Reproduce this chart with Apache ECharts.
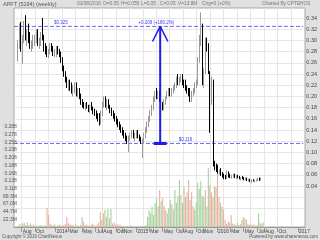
<!DOCTYPE html>
<html><head><meta charset="utf-8">
<script src="https://cdn.jsdelivr.net/npm/echarts@6/dist/echarts.min.js"></script>
<style>html,body{margin:0;padding:0;background:#e0e0e0}#c{width:320px;height:240px}</style>
</head><body><div id="c"></div>
<script>
// weekly bars, week 0 = 2013-07-01
const startWeek = '2013-07-01';
const opens = [
.27,.27,.27,.295,.322,.29,.30,.33,.305,.315,
.30,.29,.295,.30,.305,.31,.295,.30,.31,.305,
.285,.28,.275,.28,.29,.285,.275,.28,.285,.28,
.275,.265,.25,.24,.23,.22,.225,.215,.21,.215,
.22,.205,.21,.2,.19,.185,.182,.185,.18,.178,
.182,.178,.172,.17,.165,.16,.155,.17,.185,.195,
.185,.19,.18,.175,.17,.165,.16,.155,.15,.145,
.14,.135,.13,.125,.12,.125,.13,.135,.128,.132,
.135,.128,.125,.118,.12,.13,.14,.15,.16,.17,
.18,.195,.205,.2,.205,.195,.185,.18,.19,.198,
.205,.21,.205,.212,.215,.22,.23,.225,.232,.235,
.225,.22,.215,.21,.205,.2,.205,.21,.22,.225,
.265,.3,.315,.23,.245,.3,.29,.245,.19,.225,
.08,.075,.07,.065,.068,.062,.058,.056,.055,.062,
.058,.056,.058,.06,.055,.057,.056,.053,.055,.054,
.052,.053,.05,.051,.049,.05,.049,.05,.05,.052,
.05];
const highs = [
.27,.27,.30,.33,.333,.31,.335,.345,.32,.33,
.315,.30,.31,.31,.32,.32,.305,.315,.34,.31,
.295,.29,.285,.295,.295,.29,.285,.29,.29,.285,
.28,.27,.255,.245,.235,.23,.23,.225,.22,.225,
.225,.215,.215,.205,.195,.19,.188,.19,.185,.185,
.19,.182,.178,.175,.17,.17,.175,.19,.2,.2,
.195,.195,.185,.18,.175,.17,.165,.16,.155,.15,
.145,.14,.135,.13,.13,.135,.14,.14,.135,.14,
.14,.132,.128,.125,.135,.145,.155,.165,.175,.185,
.2,.21,.215,.21,.21,.2,.19,.195,.2,.21,
.215,.215,.215,.22,.225,.235,.24,.235,.24,.24,
.23,.23,.22,.215,.215,.21,.215,.225,.23,.27,
.31,.35,.33,.25,.305,.305,.295,.245,.235,.23,
.085,.08,.078,.07,.072,.065,.062,.06,.068,.066,
.062,.06,.062,.062,.06,.06,.058,.056,.058,.056,
.055,.055,.053,.053,.052,.052,.051,.052,.055,.055,
.055];
const lows = [
.27,.27,.262,.285,.28,.258,.295,.30,.29,.295,
.285,.28,.285,.29,.295,.29,.285,.29,.30,.28,
.275,.27,.268,.275,.28,.272,.27,.27,.275,.27,
.26,.245,.235,.225,.215,.21,.21,.205,.2,.205,
.2,.198,.195,.185,.18,.178,.175,.178,.172,.17,
.175,.168,.165,.16,.155,.148,.15,.165,.18,.18,
.175,.178,.17,.165,.16,.155,.15,.145,.14,.135,
.13,.125,.12,.115,.1,.12,.125,.125,.12,.125,
.125,.12,.115,.09,.115,.125,.135,.145,.155,.165,
.175,.19,.195,.195,.19,.18,.175,.175,.185,.195,
.2,.2,.2,.205,.21,.215,.22,.22,.225,.22,
.215,.21,.205,.2,.19,.19,.2,.205,.215,.22,
.26,.29,.22,.215,.24,.28,.24,.135,.185,.075,
.068,.065,.062,.06,.058,.055,.052,.052,.053,.055,
.054,.053,.055,.054,.052,.054,.052,.05,.052,.05,
.05,.049,.048,.047,.045,.048,.046,.048,.049,.049,
.05];
const closes = [
.27,.27,.295,.322,.29,.30,.33,.305,.315,.30,
.29,.295,.30,.305,.31,.295,.30,.31,.305,.285,
.28,.275,.28,.29,.285,.275,.28,.285,.28,.275,
.265,.25,.24,.23,.22,.225,.215,.21,.215,.22,
.205,.21,.2,.19,.185,.182,.185,.18,.178,.182,
.178,.172,.17,.165,.16,.155,.17,.185,.195,.185,
.19,.18,.175,.17,.165,.16,.155,.15,.145,.14,
.135,.13,.125,.12,.125,.13,.135,.128,.132,.135,
.128,.125,.118,.12,.13,.14,.15,.16,.17,.18,
.195,.205,.2,.205,.195,.185,.18,.19,.198,.205,
.21,.205,.212,.215,.22,.23,.225,.232,.235,.225,
.22,.215,.21,.205,.2,.205,.21,.22,.225,.265,
.3,.32,.23,.245,.3,.29,.245,.185,.228,.08,
.075,.07,.065,.068,.062,.058,.056,.055,.062,.058,
.056,.058,.06,.055,.057,.056,.053,.055,.054,.052,
.053,.05,.051,.049,.05,.049,.05,.05,.052,.05,
.05];
// volume in millions
const volumes = [
8,5,10,12,6,14,5,10,4,7,
3,5,2,4,6,3,5,4,55,35,
10,6,4,8,3,5,7,4,3,6,
9,29,12,8,5,6,3,8,4,3,
6,29,15,5,8,4,3,6,10,4,
3,7,12,43,20,40,49,30,52,25,
52,10,14,6,9,4,7,2,3,2,
1,3,2,4,2,1,2,3,2,1,
2,3,2,6,29,49,40,58,35,70,
84,60,107,75,84,60,49,40,55,78,
65,50,107,70,90,136,93,70,116,87,
100,136,78,101,60,50,70,128,110,133,
90,87,107,60,171,120,100,87,116,116,
160,87,70,58,50,20,9,17,12,35,
10,8,6,12,5,8,20,29,25,22,
9,6,8,5,7,4,6,40,12,8,13.8];

// x-axis tick labels (month starts)
const monthDates = ['2013-08-01','2013-10-01','2014-01-01','2014-03-01','2014-05-01','2014-07-01','2014-08-01','2014-10-01','2014-11-01','2015-01-01','2015-03-01','2015-05-01','2015-07-01','2015-08-01','2015-10-01','2015-11-01','2016-01-01','2016-03-01','2016-05-01','2016-07-01','2016-08-01','2016-10-01','2017-01-01'];
const monthLabels = ['Aug','Oct','2014','Mar','May','Jul','Aug','Oct','Nov','2015','Mar','May','Jul','Aug','Oct','Nov','2016','Mar','May','Jul','Aug','Oct','2017'];
const gridDates = ['2013-08-01','2013-10-01','2013-12-01','2014-02-01','2014-04-01','2014-06-01','2014-08-01','2014-10-01','2014-12-01','2015-02-01','2015-04-01','2015-06-01','2015-08-01','2015-10-01','2015-12-01','2016-02-01','2016-04-01','2016-06-01','2016-08-01','2016-10-01','2016-12-01'];
// left-side tick labels (bottom to top)
const leftLabels = ['','22.3M','44.7M','67.0M','89.3M','0.118','0.138','0.168','0.188','0.208','0.238','0.258','0.278','0.288'];

// measurement annotation
const levelHigh = 0.325, levelLow = 0.116;
const measureWeek = 94.5;
const levelHighText = '$0.325', levelLowText = '$0.116', changeText = '+0.209 (+180.2%)';

const headerTexts = ['APFT (5194) (weekly)','03/08/2016','O=0.05','H=0.055','L=0.05','C=0.05','V=13.8M','Chg=0 (+0%)','Charted By CPTEHOS'];
const headerLeft = [3,77,103,121,141,160,178,202,262];

const DAY = 86400000;
const t0 = Date.parse(startWeek + 'T00:00:00Z');
const toWeek = d => (Date.parse(d + 'T00:00:00Z') - t0) / (7 * DAY);
const monthPos = monthDates.map(toWeek);
const gridPos = gridDates.map(toWeek);
const labelMap = {};
monthPos.forEach((p, i) => { labelMap[p.toFixed(4)] = monthLabels[i]; });

const candleData = opens.map((o, i) => [i, o, closes[i], lows[i], highs[i]]);
const volData = volumes.map((v, i) => ({
  value: [i, v],
  itemStyle: { color: closes[i] >= opens[i] ? '#a6d29c' : '#e8b1a0' }
}));

const FONT = 'Liberation Sans';
const X0 = -0.5, X1 = 187.5;
const blue = '#1c1cf0';
const dashBlue = '#6a6aff';

const titles = headerTexts.map((t, i) => ({
  text: t, left: headerLeft[i], top: 1, padding: 0,
  textStyle: { fontSize: i === 0 ? 5.5 : 4.8, fontWeight: 'normal', color: i === 0 ? '#555' : '#777', fontFamily: FONT }
}));
titles.push({ text: 'Copyright \u00a9 2016 ChartNexus', left: 2, top: 234, padding: 0,
  textStyle: { fontSize: 4.5, fontWeight: 'normal', color: '#555', fontFamily: FONT } });
titles.push({ text: 'Powered by www.sharenexus.com', right: 2, top: 234, padding: 0,
  textStyle: { fontSize: 4.5, fontWeight: 'normal', color: '#555', fontFamily: FONT } });

const option = {
  backgroundColor: '#e0e0e0',
  animation: false,
  title: titles,
  grid: [
    { left: 14, right: 15, top: 8, bottom: 13, show: true, backgroundColor: '#ffffff', borderColor: '#a8a8a8', borderWidth: 1, z: -1 },
    { left: 14, right: 15, top: 18, bottom: 31.6 },
    { left: 14, right: 15, top: 127, bottom: 13 }
  ],
  xAxis: [
    { gridIndex: 0, type: 'value', min: X0, max: X1,
      axisLine: { show: true, lineStyle: { color: '#999' } },
      axisTick: { show: true, customValues: monthPos, length: 5, lineStyle: { color: '#999' } },
      axisLabel: { customValues: monthPos, formatter: v => labelMap[v.toFixed(4)] || '', fontSize: 5, color: '#444', fontFamily: FONT, align: 'left', margin: 2, padding: [0, 0, 0, 1] },
      splitLine: { show: false } },
    { gridIndex: 0, type: 'value', min: X0, max: X1, position: 'top',
      axisLine: { show: false }, axisTick: { show: false, customValues: gridPos }, axisLabel: { show: false },
      splitLine: { show: true, lineStyle: { color: '#e6e6e6', width: 1 } } },
    { gridIndex: 1, type: 'value', min: X0, max: X1, show: false },
    { gridIndex: 2, type: 'value', min: X0, max: X1, show: false }
  ],
  yAxis: [
    { gridIndex: 0, type: 'value', min: 0, max: 1, show: false },
    { gridIndex: 1, type: 'value', min: 0, max: 0.34, interval: 0.02, position: 'right',
      axisLine: { show: false }, axisTick: { show: false },
      axisLabel: { fontSize: 5.5, color: '#444', fontFamily: FONT, margin: 3, formatter: v => v >= 0.039 ? v.toFixed(2) : '' },
      splitLine: { show: true, lineStyle: { color: '#e6e6e6' } } },
    { gridIndex: 2, type: 'category', data: leftLabels, boundaryGap: false, position: 'left',
      axisLine: { show: false }, axisTick: { show: false },
      axisLabel: { interval: 0, fontSize: 5, color: '#555', fontFamily: FONT, margin: 2 },
      splitLine: { show: false } },
    { gridIndex: 2, type: 'value', min: 0, max: 290, show: false }
  ],
  series: [
    { type: 'bar', xAxisIndex: 3, yAxisIndex: 3, data: volData, barWidth: 1.1, z: 1, silent: true },
    { type: 'candlestick', xAxisIndex: 2, yAxisIndex: 1, data: candleData, barWidth: 1.3, clip: false, z: 3,
      itemStyle: { color: '#ffffff', color0: '#000000', borderColor: '#9a9a9a', borderColor0: '#000000', borderWidth: 1 },
      markPoint: { silent: true, symbol: 'circle', symbolSize: 1, itemStyle: { color: 'rgba(0,0,0,0)' },
        label: { show: true, position: 'top', distance: 1, color: '#3a3aff', fontSize: 4.5, fontFamily: FONT },
        data: [
          { coord: [30, levelHigh], label: { formatter: levelHighText } },
          { coord: [92, levelHigh], label: { formatter: changeText } },
          { coord: [111, levelLow], label: { formatter: levelLowText } }
        ] } },
    { type: 'line', xAxisIndex: 2, yAxisIndex: 1, symbol: 'none', z: 2, silent: true,
      itemStyle: { color: dashBlue },
      lineStyle: { color: dashBlue, type: 'dashed', dashOffset: 0, width: 1 },
      data: [[X0, levelHigh], [X1, levelHigh]] },
    { type: 'line', xAxisIndex: 2, yAxisIndex: 1, symbol: 'none', z: 2, silent: true,
      itemStyle: { color: dashBlue },
      lineStyle: { color: dashBlue, type: 'dashed', dashOffset: 0, width: 1 },
      data: [[X0, levelLow], [X1, levelLow]] },
    { type: 'line', xAxisIndex: 2, yAxisIndex: 1, symbol: 'none', z: 5, silent: true,
      lineStyle: { color: blue, width: 2 },
      data: [[measureWeek, levelLow], [measureWeek, levelHigh]] },
    { type: 'line', xAxisIndex: 2, yAxisIndex: 1, symbol: 'none', z: 5, silent: true,
      lineStyle: { color: blue, width: 1.5 },
      data: [[measureWeek - 5, levelHigh - 0.027], [measureWeek, levelHigh], [measureWeek + 5, levelHigh - 0.027]] },
    { type: 'line', xAxisIndex: 2, yAxisIndex: 1, symbol: 'none', z: 5, silent: true,
      lineStyle: { color: blue, width: 3 },
      data: [[measureWeek - 4.2, levelLow], [measureWeek + 4.2, levelLow]] }
  ]
};
const chart = echarts.init(document.getElementById('c'), null, { renderer: 'canvas' });
chart.setOption(option);
</script>
</body></html>
